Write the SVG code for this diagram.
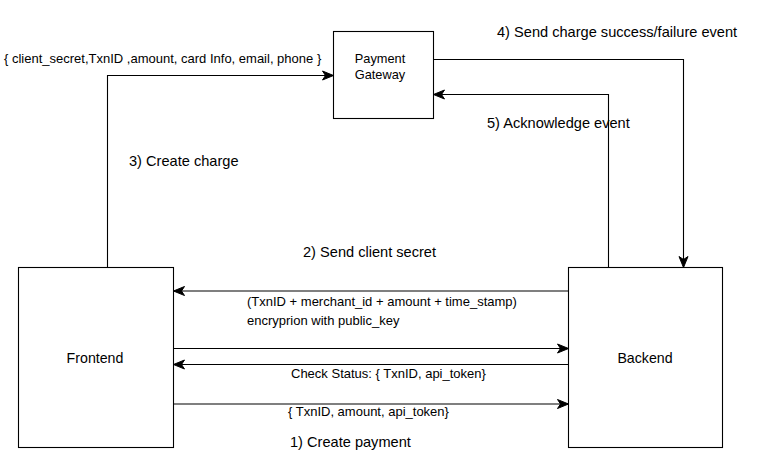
<svg xmlns="http://www.w3.org/2000/svg" width="765" height="471" viewBox="0 0 765 471">
<defs>
<marker id="arr" markerUnits="userSpaceOnUse" markerWidth="12" markerHeight="10" refX="11" refY="5" orient="auto" overflow="visible">
<path d="M0,0.5 L11,5 L0,9.5 L3,5 Z" fill="#000" stroke="#000" stroke-width="1"/>
</marker>
<style>
.box{fill:#fff;stroke:#000;stroke-width:1.1}
.ln{fill:none;stroke:#000;stroke-width:1.1;marker-end:url(#arr)}
text{font-family:"Liberation Sans",Arial,Helvetica,sans-serif;fill:#000}
.s{font-size:13px}
.m{font-size:14.6px}
.n{font-size:14.2px;text-anchor:middle}
.g{font-size:12.8px;text-anchor:middle}
</style>
</defs>
<rect width="765" height="471" fill="#fff"/>
<g id="connectors">
<path class="ln" d="M107.5,267.5 V75.5 H333.5"/>
<path class="ln" d="M433.5,59.5 H683.5 V267.5"/>
<path class="ln" d="M608.5,267.5 V94.5 H433.5"/>
<path class="ln" d="M568.5,291 H173.5"/>
<path class="ln" d="M173.5,348.5 H568.5"/>
<path class="ln" d="M568.5,364.5 H173.5"/>
<path class="ln" d="M173.5,404 H568.5"/>
</g>
<g id="labels">
<text class="s" x="4" y="63">{ client_secret,TxnID ,amount, card Info, email, phone }</text>
<text class="m" x="129" y="166">3) Create charge</text>
<text class="m" x="497" y="37">4) Send charge success/failure event</text>
<text class="m" x="487" y="128">5) Acknowledge event</text>
<text class="m" x="303" y="257">2) Send client secret</text>
<text class="s" x="247" y="306">(TxnID + merchant_id + amount + time_stamp)</text>
<text class="s" x="247" y="325">encryprion with public_key</text>
<text class="s" x="291" y="378">Check Status: { TxnID, api_token}</text>
<text class="s" x="288" y="416">{ TxnID, amount, api_token}</text>
<text class="m" x="290" y="447">1) Create payment</text>
</g>
<g id="payment-gateway">
<rect class="box" x="333.5" y="31.5" width="100" height="87"/>
<text class="g" x="380" y="62.5">Payment</text>
<text class="g" x="380" y="79">Gateway</text>
</g>
<g id="frontend">
<rect class="box" x="18.5" y="267.5" width="155" height="180"/>
<text class="n" x="95" y="363">Frontend</text>
</g>
<g id="backend">
<rect class="box" x="568.5" y="267.5" width="154" height="180"/>
<text class="n" x="645" y="363">Backend</text>
</g>
</svg>
